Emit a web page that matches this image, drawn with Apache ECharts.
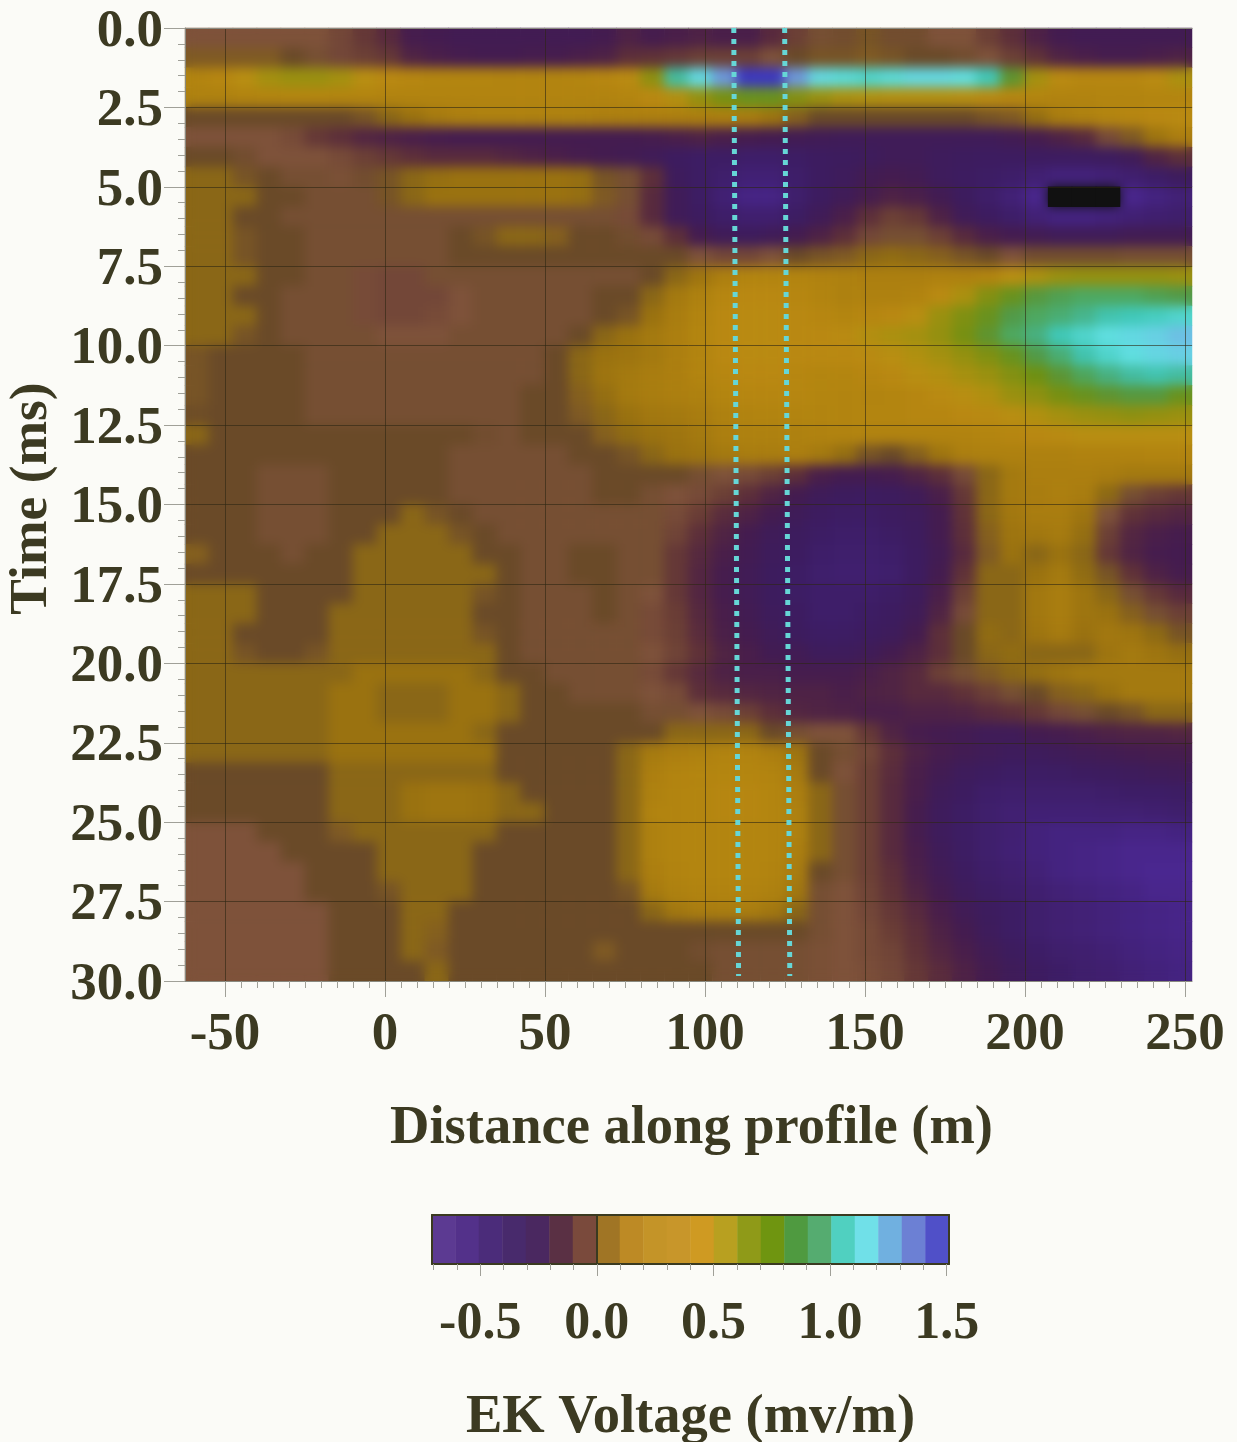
<!DOCTYPE html>
<html><head><meta charset="utf-8">
<style>html,body{margin:0;padding:0;background:#fbfbf7}#c{width:1237px;height:1442px}</style>
<script src="https://cdn.jsdelivr.net/npm/echarts@6/dist/echarts.min.js"></script>
</head><body><div id="c"></div>
<script>
// Values, in hundredths of mV/m. One array per time row, 42 distance columns.
const r00=[0,0,0,0,0,0,-3,-8,-15,-28,-30,-32,-32,-32,-32,-32,-32,-30,-22,-28,-25,-22,-25,-25,-15,-5,2,3,8,3,3,0,0,-5,-12,-22,-30,-32,-32,-32,-32,-32];
const r01=[10,10,10,10,5,2,-3,-5,-8,-20,-25,-28,-30,-30,-28,-28,-25,-22,-12,-10,-8,-5,-5,-5,0,5,8,8,10,8,5,5,3,0,-5,-10,-20,-25,-28,-28,-25,-22];
const r02=[35,38,45,55,58,58,55,45,40,38,36,36,36,35,35,35,36,38,42,62,95,112,125,145,145,125,112,108,105,108,112,112,110,100,75,55,42,38,38,38,42,52];
const r03=[32,32,34,35,36,36,35,35,34,34,34,34,34,34,34,34,34,34,36,40,48,60,68,72,72,65,58,52,50,48,48,48,46,42,38,36,34,34,35,35,36,36];
const r04=[5,5,5,5,5,5,5,8,14,20,26,30,32,32,32,32,32,30,30,30,30,30,30,28,22,12,5,5,5,5,5,5,5,8,10,18,28,32,36,38,40,42];
const r05=[0,0,0,0,-2,-8,-12,-18,-22,-25,-28,-30,-30,-30,-30,-30,-30,-30,-30,-28,-25,-22,-25,-28,-30,-32,-34,-35,-35,-35,-35,-35,-35,-35,-32,-28,-22,-15,-2,10,22,30];
const r06=[5,5,3,0,0,0,-2,-5,-8,-12,-15,-15,-15,-18,-22,-25,-28,-30,-32,-35,-42,-45,-45,-48,-48,-45,-42,-40,-38,-35,-35,-38,-40,-42,-42,-42,-42,-42,-40,-35,-20,-12];
const r07=[14,14,8,5,2,2,1,3,8,14,18,20,20,20,20,20,18,8,2,-12,-38,-45,-50,-55,-55,-48,-42,-38,-32,-30,-32,-38,-42,-45,-48,-54,-58,-58,-56,-52,-46,-40];
const r08=[14,14,14,5,5,2,2,2,8,14,20,20,20,20,20,20,18,10,2,-15,-35,-45,-55,-62,-62,-50,-42,-35,-28,-22,-25,-32,-40,-48,-56,-66,-90,-90,-85,-66,-60,-56];
const r09=[14,14,5,5,2,2,2,2,2,2,2,2,2,2,2,2,2,2,-2,-15,-35,-42,-48,-52,-52,-44,-35,-25,-12,-5,-8,-22,-35,-42,-48,-56,-60,-60,-58,-55,-52,-50];
const r10=[14,14,8,5,5,2,2,2,2,2,2,5,8,14,14,12,5,5,3,-2,-12,-30,-35,-38,-35,-30,-22,-12,-3,2,2,-5,-15,-25,-30,-32,-35,-35,-35,-32,-32,-32];
const r11=[14,14,8,5,5,2,2,2,2,2,2,5,5,5,5,5,5,5,5,5,5,0,-3,-3,0,5,8,10,14,16,14,12,8,5,0,3,3,3,3,2,2,2];
const r12=[14,14,14,5,5,2,2,-2,-3,-3,2,2,2,2,2,2,2,2,2,5,14,22,30,35,35,35,33,32,30,30,30,32,32,35,45,52,58,60,60,60,60,58];
const r13=[14,14,5,5,2,2,2,-2,-3,-3,-3,0,2,2,2,2,2,5,5,14,25,32,38,40,40,38,35,32,32,32,34,42,52,65,72,78,82,85,85,85,82,80];
const r14=[14,14,14,5,2,2,2,-2,-3,-3,-2,0,2,2,2,2,2,5,8,20,28,35,40,42,42,40,38,36,38,40,45,58,66,72,80,85,88,92,98,100,102,105];
const r15=[14,14,8,5,2,2,2,2,0,0,0,2,2,2,2,2,5,14,20,25,30,36,40,42,42,40,40,42,48,52,55,60,68,75,85,90,100,105,110,112,115,118];
const r16=[8,5,5,5,5,2,2,2,2,2,2,2,2,2,2,5,14,20,22,25,30,35,40,42,42,40,40,40,42,45,50,55,60,66,72,80,88,98,105,110,113,115];
const r17=[8,5,5,5,5,2,2,2,2,2,2,2,2,2,2,5,14,22,25,28,30,35,38,40,40,38,36,36,38,40,45,48,54,58,65,70,76,84,90,95,98,95];
const r18=[8,5,5,5,5,2,2,2,2,2,2,2,2,2,5,5,12,18,25,28,30,32,36,38,38,38,36,35,35,36,38,42,45,50,58,62,68,72,75,78,78,72];
const r19=[6,5,5,5,5,2,2,2,2,2,2,2,2,2,5,5,10,14,20,24,25,28,32,34,35,35,35,35,36,36,38,38,40,42,45,50,55,58,60,62,60,58];
const r20=[14,5,5,5,5,5,5,5,5,5,5,5,3,2,5,5,5,12,16,20,22,25,30,32,32,32,33,34,34,34,34,34,34,36,38,40,42,45,45,45,45,45];
const r21=[5,5,5,5,5,5,5,5,5,5,5,2,2,2,2,2,5,5,8,14,20,22,25,28,28,30,25,18,8,5,12,22,30,32,32,32,32,33,33,34,35,35];
const r22=[5,5,5,2,2,2,5,5,5,5,5,2,2,2,2,2,2,5,5,5,5,2,0,-2,-5,-12,-25,-30,-30,-28,-20,-12,-2,14,25,30,30,30,28,25,25,25];
const r23=[5,5,5,2,2,2,5,5,5,5,5,2,2,2,2,2,2,5,5,2,0,-2,-5,-12,-20,-30,-36,-40,-42,-40,-35,-25,-8,14,25,28,30,28,15,2,-5,-8];
const r24=[5,5,5,2,2,2,5,5,5,14,8,5,2,2,2,2,2,2,2,2,-2,-6,-14,-22,-30,-36,-42,-45,-45,-42,-38,-30,-10,14,24,28,28,22,0,-10,-15,-18];
const r25=[5,5,5,2,2,2,5,5,14,14,14,8,5,2,2,2,2,2,2,2,-4,-12,-20,-30,-36,-40,-45,-48,-48,-45,-40,-30,-12,12,22,24,26,18,-5,-18,-25,-28];
const r26=[12,5,5,5,2,5,5,14,14,14,14,14,5,5,2,2,5,5,2,2,-8,-16,-25,-32,-38,-42,-48,-50,-50,-48,-42,-32,-15,10,20,14,20,14,-8,-20,-28,-30];
const r27=[5,5,5,5,5,5,5,14,14,14,14,14,14,5,2,2,5,5,2,2,-8,-18,-28,-34,-40,-45,-50,-52,-52,-50,-42,-30,-10,14,14,20,25,16,8,-10,-22,-28];
const r28=[14,14,14,5,5,5,5,14,14,14,14,14,8,5,2,2,2,5,2,0,-8,-18,-28,-34,-40,-45,-48,-48,-48,-45,-38,-25,-5,14,14,24,28,22,14,2,-8,-15];
const r29=[14,14,14,5,5,5,14,14,14,14,14,14,5,5,2,2,2,5,2,-2,-6,-16,-26,-32,-38,-42,-48,-48,-45,-42,-35,-20,-2,14,14,24,28,22,20,12,2,-5];
const r30=[14,14,5,5,5,5,14,14,14,14,14,14,8,5,2,2,2,2,2,-2,-5,-14,-24,-30,-35,-40,-45,-45,-42,-38,-30,-12,5,16,14,22,26,20,24,22,15,8];
const r31=[14,14,8,5,5,8,14,14,14,14,14,14,14,5,2,2,2,2,2,0,-4,-10,-20,-26,-32,-33,-38,-38,-35,-30,-22,-12,5,14,16,14,14,14,22,25,22,18];
const r32=[14,14,14,14,14,14,14,20,20,20,20,20,14,5,5,2,2,2,2,-2,-8,-15,-22,-25,-25,-28,-28,-28,-25,-20,-15,-5,2,10,14,18,22,25,25,25,25,25];
const r33=[14,14,14,14,14,14,20,20,14,14,14,20,20,14,5,5,2,2,2,0,-2,-12,-15,-18,-20,-22,-22,-25,-22,-20,-15,-15,-10,-5,2,5,12,14,20,25,25,25];
const r34=[14,14,14,14,14,14,20,20,14,14,14,20,20,14,5,5,5,5,5,2,2,0,-2,-5,-12,-18,-20,-22,-25,-25,-22,-22,-20,-15,-12,-8,-3,2,5,8,14,14];
const r35=[14,14,14,14,14,14,20,20,20,20,20,20,14,5,5,5,5,5,5,5,14,14,14,14,5,2,0,0,-8,-20,-28,-30,-32,-35,-35,-30,-28,-25,-22,-20,-20,-18];
const r36=[14,14,14,14,14,14,20,20,20,20,20,20,20,5,5,5,5,5,14,26,30,32,34,34,30,22,5,2,-3,-12,-22,-28,-32,-35,-38,-38,-36,-34,-32,-30,-28,-28];
const r37=[5,5,5,5,5,5,14,14,14,14,14,14,14,5,5,5,5,5,14,30,34,36,36,36,34,26,5,0,-5,-14,-25,-32,-38,-42,-45,-45,-44,-42,-40,-38,-36,-35];
const r38=[5,5,5,5,5,5,14,14,14,20,22,22,20,14,5,5,5,5,14,32,35,36,38,38,36,30,14,2,-5,-15,-26,-36,-42,-48,-50,-50,-50,-50,-48,-46,-46,-45];
const r39=[5,5,5,5,5,5,14,14,14,20,22,22,20,14,14,5,5,5,14,34,35,36,38,38,36,32,14,2,-5,-15,-28,-38,-45,-50,-54,-55,-55,-55,-54,-54,-52,-50];
const r40=[0,0,0,5,5,5,10,14,14,14,14,14,14,5,5,5,5,5,14,32,35,36,36,36,35,32,14,2,-5,-15,-28,-38,-45,-50,-54,-58,-60,-60,-60,-62,-62,-60];
const r41=[0,0,0,0,5,5,5,5,14,14,14,14,5,5,5,5,5,5,14,32,35,36,36,36,35,30,14,2,-5,-15,-26,-36,-44,-50,-55,-58,-60,-62,-64,-66,-66,-66];
const r42=[0,0,0,0,0,5,5,5,14,14,14,14,5,5,5,5,5,5,14,30,34,36,36,36,34,28,5,2,-5,-12,-24,-34,-42,-48,-52,-56,-60,-62,-64,-66,-68,-68];
const r43=[0,0,0,0,0,5,5,5,8,14,14,14,5,5,5,5,5,5,8,26,32,34,34,34,32,24,2,0,-4,-10,-20,-30,-38,-44,-48,-52,-56,-58,-60,-62,-66,-66];
const r44=[0,0,0,0,0,0,5,5,5,14,14,5,5,5,5,5,5,5,5,14,24,28,28,28,24,14,2,0,-3,-8,-15,-26,-34,-40,-45,-50,-54,-56,-58,-60,-62,-64];
const r45=[0,0,0,0,0,0,5,5,5,14,12,5,5,5,5,5,5,5,5,5,5,5,5,5,5,5,2,0,-2,-6,-12,-22,-30,-38,-45,-50,-54,-56,-58,-60,-62,-64];
const r46=[0,0,0,0,0,0,5,5,5,14,10,5,5,5,5,5,5,10,5,5,5,3,2,2,2,2,1,0,-2,-4,-10,-18,-26,-34,-40,-46,-50,-52,-55,-58,-60,-62];
const r47=[0,0,0,0,0,0,5,5,5,5,14,5,5,5,5,5,5,5,5,5,5,5,2,2,2,2,1,0,-1,-3,-8,-14,-22,-30,-36,-42,-46,-50,-52,-56,-58,-60];
const gridRows=[r00,r01,r02,r03,r04,r05,r06,r07,r08,r09,r10,r11,r12,r13,r14,r15,r16,r17,r18,r19,r20,r21,r22,r23,r24,r25,r26,r27,r28,r29,r30,r31,r32,r33,r34,r35,r36,r37,r38,r39,r40,r41,r42,r43,r44,r45,r46,r47];

const distanceTicks=[-50,0,50,100,150,200,250];
const distanceMinorTicks=[-45,-40,-35,-30,-25,-20,-15,-10,-5,5,10,15,20,25,30,35,40,45,55,60,65,70,75,80,85,90,95,105,110,115,120,125,130,135,140,145,155,160,165,170,175,180,185,190,195,205,210,215,220,225,230,235,240,245];
const markerLeft=[[109,0],[110.5,29.84]];
const markerRight=[[124.9,0],[126.5,29.84]];
const barLevels=[-0.65,-0.55,-0.45,-0.35,-0.25,-0.15,-0.05,0.05,0.15,0.25,0.35,0.45,0.55,0.65,0.75,0.85,0.95,1.05,1.15,1.25,1.35,1.45];
const barColors=['#5c3a92','#53318a','#4b2c7a','#482a6c','#4a2860','#5a3044','#7a4a3c','#a07525','#bd8a25','#c49428','#c8962a','#cf9a22','#b8a020','#8f9a18','#6f9510','#4f9a40','#55ac70','#50d0c0','#70e0e8','#70b0e0','#6c80d4','#5050c8'];
const barTicks=[-0.5,0,0.5,1,1.5];
const barMinorTicks=[-0.7,-0.6,-0.4,-0.3,-0.2,-0.1,0.1,0.2,0.3,0.4,0.6,0.7,0.8,0.9,1.1,1.2,1.3,1.4];
// Plot colours every 0.05 from -0.90 to 1.50
const plotColors=['#111111','#111111','#111111','#151218','#4c2894','#48268a','#442380','#412074','#3f1f6c','#3d1d64','#3d1c5e','#401c58','#441c50','#4a1f4a','#502444','#582a3e','#603238','#6c4036','#7e523a','#6a4a28','#7f5a24','#8d6a14','#9a7210','#a47a10','#ac7f10','#b28410','#b98812','#b88e12','#b09010','#a49010','#949010','#849012','#6f9012','#5f9430','#529a48','#4ea860','#48b080','#44bca0','#40c8b8','#50d4cc','#60dee0','#68d0e4','#70b4e4','#6c98dc','#5c80d4','#4c64cc','#4048c4','#3c38c0','#3830c0'];

const ink='#3c3a22', serif='"Liberation Serif","Times New Roman",serif';
const cols=gridRows[0].map((_,i)=>String(i)), rowsIdx=gridRows.map((_,j)=>String(j));
const cells=[];
gridRows.forEach((row,j)=>row.forEach((v,i)=>cells.push([i,j,v/100])));
const blackCells=cells.filter(c=>c[2]<-0.75);
const fontOf=(s)=>({fontFamily:serif,fontWeight:'bold',fontSize:s,color:ink});
const xMin=-62.5,xMax=252.2,bMin=-0.707,bMax=1.51;
const upper={zlevel:2,z:5};
const barEdge={show:true,onZero:false,lineStyle:{color:'#3a3a20',width:2}};
const plotEdge={show:true,onZero:false,lineStyle:{color:'#8a8a80',width:1}};
const tickInk={color:'#a0a098',width:1};
const option={
 animation:false,
 grid:[{left:185,top:28,width:1007,height:953,outerBoundsMode:'none'},{left:432,top:1215,width:517,height:49,outerBoundsMode:'none'}],
 visualMap:[
  {show:false,type:'continuous',seriesIndex:[0,1,4],min:-0.9,max:1.5,inRange:{color:plotColors}},
  {show:false,type:'continuous',seriesIndex:5,min:-0.65,max:1.45,inRange:{color:barColors}}
 ],
 xAxis:[
  {type:'category',gridIndex:0,position:'top',data:cols,axisLine:plotEdge,axisTick:{show:false},axisLabel:{show:false},splitLine:{show:false},...upper},
  {type:'value',gridIndex:0,min:xMin,max:xMax,position:'bottom',...upper,
   axisLine:plotEdge,
   axisTick:{show:true,length:16,customValues:distanceTicks,lineStyle:tickInk},
   axisLabel:{...fontOf(53),margin:28,customValues:distanceTicks,formatter:v=>String(v)},
   splitLine:{show:true,lineStyle:{color:'rgba(45,38,18,0.6)',width:1}},
   name:'Distance along profile (m)',nameLocation:'middle',nameGap:120,nameTextStyle:{...fontOf(54.5),padding:[0,0,0,6]}},
  {type:'value',gridIndex:0,min:xMin,max:xMax,position:'bottom',...upper,
   axisLine:{show:false,onZero:false},axisTick:{show:true,length:7,customValues:distanceMinorTicks,lineStyle:tickInk},
   axisLabel:{show:false},splitLine:{show:false}},
  {type:'category',gridIndex:1,position:'top',data:barLevels.map(String),axisLine:barEdge,axisTick:{show:false},axisLabel:{show:false},splitLine:{show:false},...upper},
  {type:'value',gridIndex:1,min:bMin,max:bMax,position:'bottom',...upper,
   axisLine:barEdge,
   axisTick:{show:true,length:12,customValues:barTicks,lineStyle:tickInk},
   axisLabel:{...fontOf(52),margin:35,customValues:barTicks,formatter:v=>v.toFixed(1)},
   splitLine:{show:false},
   name:'EK Voltage (mv/m)',nameLocation:'middle',nameGap:126,nameTextStyle:fontOf(54.5)},
  {type:'value',gridIndex:1,min:bMin,max:bMax,position:'bottom',...upper,
   axisLine:{show:false,onZero:false},axisTick:{show:true,length:6,customValues:barMinorTicks,lineStyle:tickInk},
   axisLabel:{show:false},splitLine:{show:false}}
 ],
 yAxis:[
  {type:'category',gridIndex:0,inverse:true,data:rowsIdx,axisLine:plotEdge,axisTick:{show:false},axisLabel:{show:false},splitLine:{show:false},...upper},
  {type:'value',gridIndex:0,min:0,max:30,interval:2.5,inverse:true,position:'left',...upper,
   axisLine:{show:false,onZero:false},
   axisTick:{show:true,length:21,lineStyle:tickInk},
   minorTick:{show:true,splitNumber:5,length:7,lineStyle:tickInk},
   axisLabel:{...fontOf(53),margin:22,verticalAlign:'top',lineHeight:8,formatter:v=>v.toFixed(1)},
   splitLine:{show:true,lineStyle:{color:'rgba(45,38,18,0.6)',width:1}},
   minorSplitLine:{show:false},
   name:'Time (ms)',nameLocation:'middle',nameGap:119,nameRotate:90,nameTextStyle:{...fontOf(53.5),padding:[0,0,0,12]}},
  {type:'category',gridIndex:1,data:['0'],position:'left',axisLine:barEdge,axisTick:{show:false},axisLabel:{show:false},splitLine:{show:false},...upper},
  {type:'category',gridIndex:1,data:['0'],position:'right',axisLine:barEdge,axisTick:{show:false},axisLabel:{show:false},splitLine:{show:false},...upper},
  {type:'category',gridIndex:1,data:['0'],axisLine:{show:true,onZero:true,lineStyle:{color:'#3a3a20',width:2}},axisTick:{show:false},axisLabel:{show:false},splitLine:{show:false},...upper}
 ],
 series:[
  {type:'heatmap',xAxisIndex:0,yAxisIndex:0,data:cells,progressive:0,emphasis:{disabled:true},silent:true,zlevel:0,z:2},
  {type:'heatmap',xAxisIndex:0,yAxisIndex:0,data:cells,progressive:0,emphasis:{disabled:true},silent:true,zlevel:1,z:2},
  {type:'line',xAxisIndex:1,yAxisIndex:1,data:markerLeft,showSymbol:false,silent:true,zlevel:2,z:6,lineStyle:{color:'#66d6d6',width:5,type:[5,6]}},
  {type:'line',xAxisIndex:1,yAxisIndex:1,data:markerRight,showSymbol:false,silent:true,zlevel:2,z:6,lineStyle:{color:'#66d6d6',width:5,type:[5,6]}},
  {type:'heatmap',xAxisIndex:0,yAxisIndex:0,data:blackCells,progressive:0,emphasis:{disabled:true},silent:true,zlevel:2,z:3},
  {type:'heatmap',xAxisIndex:3,yAxisIndex:2,data:barLevels.map((v,i)=>[i,0,v]),progressive:0,emphasis:{disabled:true},silent:true,zlevel:2,z:2}
 ]
};
const chart=echarts.init(document.getElementById('c'),null,{renderer:'canvas'});
function soften(){
 // soft shading of the plot's shaded layer only: the second canvas holds the smoothed copy
 const layers=document.querySelectorAll('#c canvas');
 if(layers.length>1){
  layers[1].style.filter='blur(6px)';
  layers[1].style.clipPath='inset(28px 45px 461px 185px)';
 }
}
chart.on('finished',soften);
chart.setOption(option);
soften();
</script></body></html>
